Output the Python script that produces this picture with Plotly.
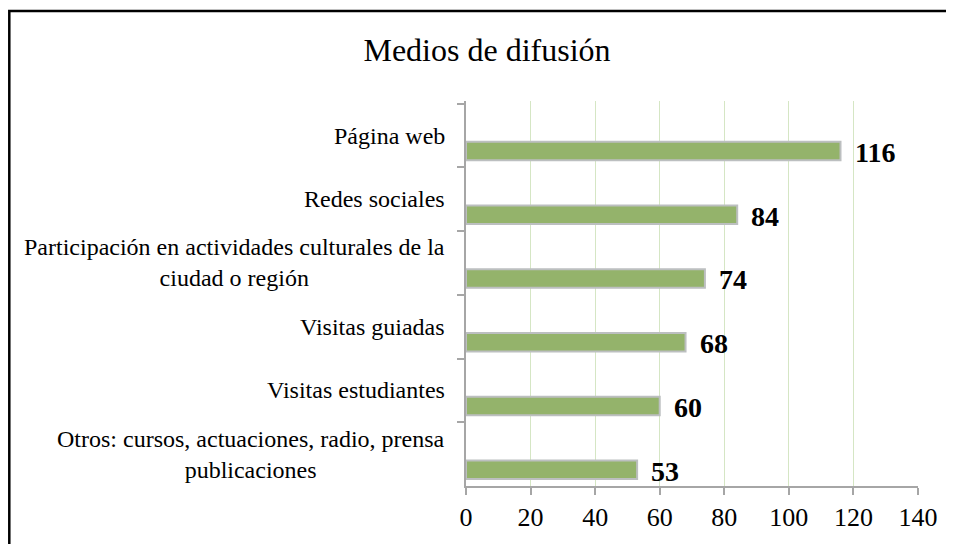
import plotly.graph_objects as go

# data (top to bottom)
categories = [
    "Página web",
    "Redes sociales",
    "Participación en actividades culturales de la<br>ciudad o región",
    "Visitas guiadas",
    "Visitas estudiantes",
    "Otros: cursos, actuaciones, radio, prensa<br>publicaciones",
]
values = [116, 84, 74, 68, 60, 53]
x_ticks = [0, 20, 40, 60, 80, 100, 120, 140]

SERIF = "Liberation Serif, Times New Roman, serif"
BAR_GREEN = "#94b36b"

# page body adds an 8px margin, so the figure is laid out 8px smaller / shifted
OFF = 8
W, H = 954 - OFF, 544 - OFF
L, T = 466 - OFF, 101 - OFF
plot_w, plot_h = 452, 387
R, B = W - L - plot_w, H - T - plot_h

fig = go.Figure()
fig.add_trace(
    go.Bar(
        x=values,
        y=categories,
        orientation="h",
        width=0.29,
        offset=0.1,
        marker=dict(color=BAR_GREEN, line=dict(color="#bcbfc0", width=2)),
        hoverinfo="x+y",
        showlegend=False,
    )
)

annotations = []
# category labels, centered lines, right edge near axis
for cat in categories:
    annotations.append(
        dict(
            x=0, xref="paper", y=cat, yref="y",
            text=cat, showarrow=False, xanchor="right", yanchor="middle",
            xshift=-19, align="center",
            font=dict(family=SERIF, size=24, color="#000000"),
        )
    )
# value labels next to bars
for cat, v in zip(categories, values):
    annotations.append(
        dict(
            x=v, xref="x", y=cat, yref="y",
            text=f"<b>{v}</b>", showarrow=False, xanchor="left", yanchor="middle",
            xshift=12, yshift=-17,
            font=dict(family=SERIF, size=28, color="#000000"),
        )
    )


def fig_x(px):
    # figure pixel -> paper coordinate
    return (px - L) / plot_w


def fig_y(py):
    return (T + plot_h - py) / plot_h


fig.update_layout(
    width=W,
    height=H,
    margin=dict(l=L, r=R, t=T, b=B),
    paper_bgcolor="#ffffff",
    plot_bgcolor="#ffffff",
    title=dict(
        text="Medios de difusión",
        x=(487 - OFF) / W, xanchor="center",
        y=1 - (50 - OFF) / H, yanchor="middle",
        font=dict(family=SERIF, size=32, color="#000000"),
    ),
    xaxis=dict(
        range=[0, 140],
        tickvals=x_ticks,
        showgrid=True,
        gridcolor="#d5e6c4",
        gridwidth=1,
        zeroline=False,
        showline=True,
        linecolor="#a6a6a6",
        linewidth=1.5,
        ticks="outside",
        ticklen=7,
        tickcolor="#a6a6a6",
        tickwidth=1.5,
        tickfont=dict(family=SERIF, size=26, color="#000000"),
    ),
    yaxis=dict(
        autorange="reversed",
        showticklabels=False,
        showgrid=False,
        showline=True,
        linecolor="#a6a6a6",
        linewidth=1.5,
        ticks="outside",
        tickson="boundaries",
        ticklen=7,
        tickcolor="#a6a6a6",
        tickwidth=1.5,
    ),
    annotations=annotations,
    shapes=[
        # outer frame around the chart (right and bottom sides fall off the page)
        dict(
            type="rect", xref="paper", yref="paper",
            x0=fig_x(1.3), x1=fig_x(990), y0=fig_y(600), y1=fig_y(2.5),
            line=dict(color="#000000", width=2.5),
            fillcolor="rgba(0,0,0,0)",
            layer="above",
        )
    ],
)

fig.write_html("out.html")
